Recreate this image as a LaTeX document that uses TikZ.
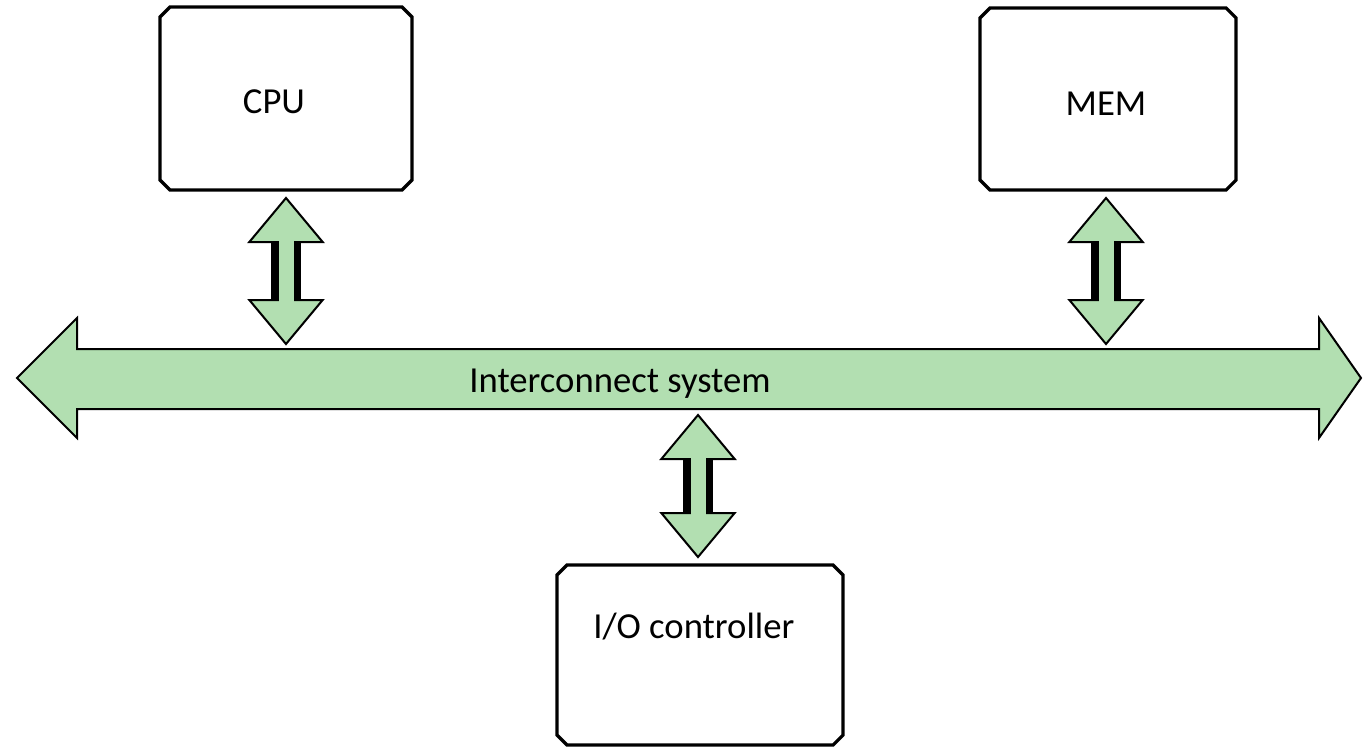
\documentclass[tikz,border=0pt]{standalone}
\usepackage{fontspec}
\setmainfont{Carlito}
\usetikzlibrary{calc}

\definecolor{busgreen}{RGB}{178,223,177}

\tikzset{
  unitframe/.style={rectangle, inner sep=0pt, outer sep=0pt},
  snip/.style={draw=black, line width=2.4pt, line join=miter, fill=white},
  lbl/.style={font=\fontsize{27.5}{32}\selectfont, text=black, inner sep=0pt},
  arrowbody/.style={fill=busgreen, draw=black, line width=1.5pt, line join=miter},
}

% outline with cut corners around a named node
\newcommand\snipframe[1]{%
  \filldraw[snip]
    ($(#1.north west)+(10,0)$) -- ($(#1.north east)+(-10,0)$) -- ($(#1.north east)+(0,10)$)
    -- ($(#1.south east)+(0,-10)$) -- ($(#1.south east)+(-10,0)$) -- ($(#1.south west)+(10,0)$)
    -- ($(#1.south west)+(0,-10)$) -- ($(#1.north west)+(0,10)$) -- cycle;
}

% double-headed link arrow between two points on one vertical line
\newcommand\linkarrow[2]{%
  \filldraw[arrowbody] let \p1=(#1), \p2=(#2) in
    (\x1,\y1) -- (\x1+27.5pt,\y1-33pt) -- (\x1-27.5pt,\y1-33pt) -- cycle;
  \filldraw[arrowbody] let \p1=(#1), \p2=(#2) in
    (\x1,\y2) -- (\x1+27.5pt,\y2+33pt) -- (\x1-27.5pt,\y2+33pt) -- cycle;
  \fill[black] let \p1=(#1), \p2=(#2) in
    (\x1-11.5pt,\y1-33pt) rectangle (\x1+11pt,\y2+33pt);
  \fill[busgreen] let \p1=(#1), \p2=(#2) in
    (\x1-5.5pt,\y1-31.8pt) rectangle (\x1+6pt,\y2+31.8pt);
}

\begin{document}
\begin{tikzpicture}[x=0.75pt,y=-0.75pt]
\useasboundingbox (0,0) rectangle (1364,749);

% units
\node[unitframe, minimum width=189pt, minimum height=137.25pt] (cpu) at (286,98.5) {};
\node[unitframe, minimum width=192pt, minimum height=136.5pt] (mem) at (1108,99) {};
\node[unitframe, minimum width=214.5pt, minimum height=135pt] (io) at (700,655) {};
\snipframe{cpu}
\snipframe{mem}
\snipframe{io}

\node[lbl] (cpulbl) at (274,102) {CPU};
\node[lbl] (memlbl) at (1106,104) {MEM};
\node[lbl, anchor=west] (iolbl) at ($(io.north west)+(36,62)$) {I/O controller};

% interconnect bus
\filldraw[arrowbody]
  (17,378) -- (77,318) -- (77,349) -- (1319,349) -- (1319,318) -- (1361,378)
  -- (1319,438) -- (1319,409) -- (77,409) -- (77,438) -- cycle;
\coordinate (bustop) at (0,349);
\coordinate (busbot) at (0,409);
\node[lbl] (buslbl) at (620,384) {Interconnect system};

% links between the units and the bus
\coordinate (cpuA) at ($(cpu.south)+(0,8)$);
\coordinate (cpuB) at ($(cpu.south |- bustop)+(0,-5)$);
\linkarrow{cpuA}{cpuB}
\coordinate (memA) at ($(mem.south)+(-2,8)$);
\coordinate (memB) at ($(mem.south |- bustop)+(-2,-5)$);
\linkarrow{memA}{memB}
\coordinate (ioA) at ($(io.north |- busbot)+(-2,6)$);
\coordinate (ioB) at ($(io.north)+(-2,-8)$);
\linkarrow{ioA}{ioB}
\end{tikzpicture}
\end{document}
